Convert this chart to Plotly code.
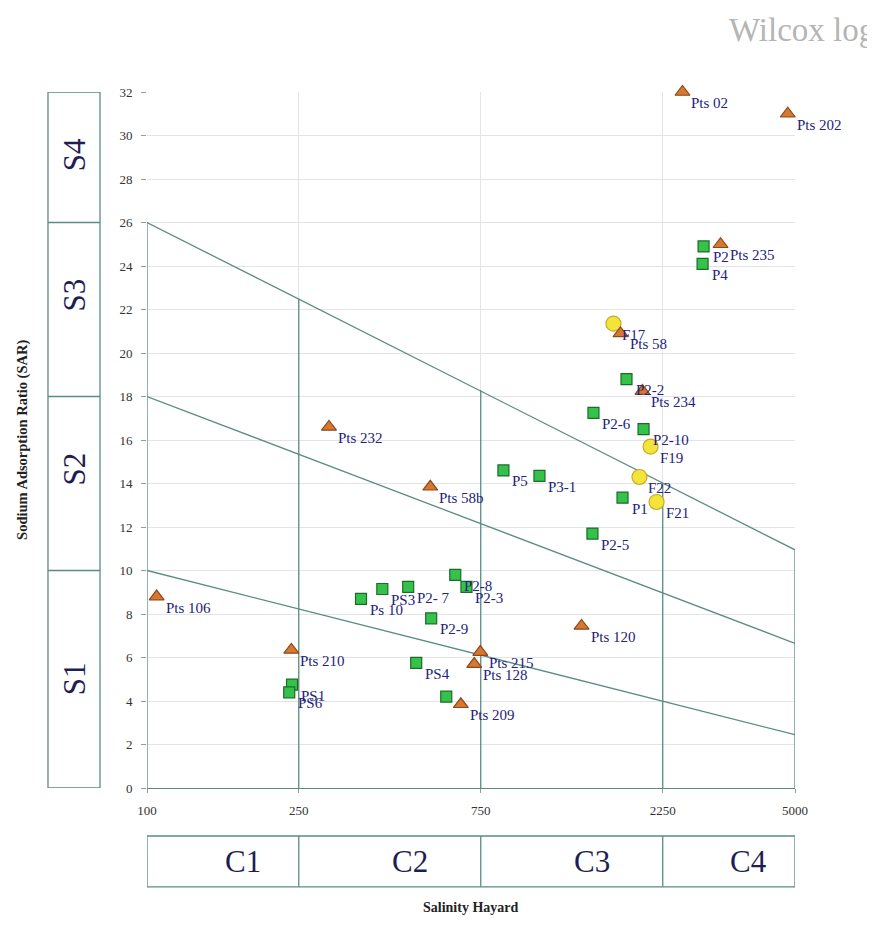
import math
import plotly.graph_objects as go

# ---------------- data ----------------
tri_names = ["Pts 02", "Pts 202", "Pts 235", "Pts 58", "Pts 234", "Pts 232", "Pts 58b",
             "Pts 106", "Pts 210", "Pts 215", "Pts 128", "Pts 209", "Pts 120"]
tri_ec = [2535, 4786, 3190, 1744, 1991, 300, 553, 106, 239, 748, 721, 665, 1378]
tri_sar = [32.0, 31.0, 25.0, 20.9, 18.25, 16.6, 13.85, 8.8, 6.35, 6.25, 5.7, 3.85, 7.45]

sq_names = ["P2", "P4", "P2-2", "P2-6", "P2-10", "P5", "P3-1", "P1", "P2-5", "P2-8", "P2-3",
            "PS3", "P2- 7", "Ps 10", "P2-9", "PS4", "", "PS1", "PS6"]
sq_ec = [2879, 2862, 1808, 1481, 2004, 860, 1069, 1765, 1472, 643, 688,
         414, 484, 364, 556, 508, 609, 240, 236]
sq_sar = [24.9, 24.1, 18.8, 17.25, 16.5, 14.6, 14.35, 13.35, 11.7, 9.8, 9.25,
          9.15, 9.25, 8.7, 7.8, 5.75, 4.2, 4.75, 4.4]

circ_names = ["F17", "F19", "F22", "F21"]
circ_ec = [1671, 2091, 1955, 2168]
circ_sar = [21.35, 15.7, 14.3, 13.15]

# class limits
ec_limits = [100, 250, 750, 2250, 5000]
c_classes = ["C1", "C2", "C3", "C4"]
s_limits = [0, 10, 18, 26, 32]
s_classes = ["S1", "S2", "S3", "S4"]

# boundary lines (SAR at EC=100 and EC=5000)
line_ec = [100, 5000]
b_s1s2 = [10.0, 2.45]
b_s2s3 = [18.0, 6.65]
b_s3s4 = [26.0, 10.95]
# top of the vertical class separators (on the S3/S4 boundary)
vert_top = [26.0, 22.5, 18.3, 14.0, 10.95]

y_ticks = list(range(0, 33, 2))

# ---------------- style ----------------
TEAL = "#5a8c84"
NAVY = "#23237a"
SERIF = "Liberation Serif, Times New Roman, serif"
LABEL_FONT = dict(family=SERIF, size=15, color=NAVY)
BIG_FONT = dict(family=SERIF, size=31, color="#1e1e55")

fig = go.Figure()

# boundary lines
for b in (b_s1s2, b_s2s3, b_s3s4):
    fig.add_trace(go.Scatter(x=line_ec, y=b, mode="lines",
                             line=dict(color=TEAL, width=1.3), hoverinfo="skip"))

# vertical separators
vx, vy = [], []
for e, t in zip(ec_limits, vert_top):
    vx += [e, e, None]
    vy += [0, t, None]
fig.add_trace(go.Scatter(x=vx, y=vy, mode="lines", line=dict(color=TEAL, width=1.3),
                         hoverinfo="skip"))

# points
fig.add_trace(go.Scatter(x=circ_ec, y=circ_sar, mode="markers",
                         marker=dict(symbol="circle", size=15, color="#f3e43a",
                                     line=dict(color="#c9a82a", width=1.2)),
                         cliponaxis=False))
fig.add_trace(go.Scatter(x=sq_ec, y=sq_sar, mode="markers",
                         marker=dict(symbol="square", size=11, color="#35c24a",
                                     line=dict(color="#1d6b2a", width=1.2)),
                         cliponaxis=False))
fig.add_trace(go.Scatter(x=tri_ec, y=tri_sar, mode="markers",
                         marker=dict(symbol="triangle-up", size=13, color="#d8782e",
                                     line=dict(color="#8a4a1e", width=1.2)),
                         cliponaxis=False))

annotations = []
# point labels (to the lower right of each marker)
for names, xs, ys in ((circ_names, circ_ec, circ_sar), (sq_names, sq_ec, sq_sar),
                      (tri_names, tri_ec, tri_sar)):
    for n, xv, yv in zip(names, xs, ys):
        if not n:
            continue
        annotations.append(dict(x=math.log10(xv), y=yv, xref="x", yref="y", text=n,
                                showarrow=False, xanchor="left", yanchor="middle",
                                xshift=7, yshift=-11, font=LABEL_FONT))

shapes = []
# C boxes (below plot)
cy0, cy1 = -0.142, -0.069
shapes.append(dict(type="rect", xref="x", yref="paper", x0=ec_limits[0], x1=ec_limits[-1],
                   y0=cy0, y1=cy1, line=dict(color=TEAL, width=1.3)))
for e in ec_limits[1:-1]:
    shapes.append(dict(type="line", xref="x", yref="paper", x0=e, x1=e, y0=cy0, y1=cy1,
                       line=dict(color=TEAL, width=1.3)))
# S boxes (left of plot)
sx0, sx1 = -0.1528, -0.0725
shapes.append(dict(type="rect", xref="paper", yref="y", x0=sx0, x1=sx1,
                   y0=s_limits[0], y1=s_limits[-1], line=dict(color=TEAL, width=1.3)))
for s in s_limits[1:-1]:
    shapes.append(dict(type="line", xref="paper", yref="y", x0=sx0, x1=sx1, y0=s, y1=s,
                       line=dict(color=TEAL, width=1.3)))

for i, c in enumerate(c_classes):
    xc = (math.log10(ec_limits[i]) + math.log10(ec_limits[i + 1])) / 2
    annotations.append(dict(x=xc, y=(cy0 + cy1) / 2, xref="x", yref="paper", text=c,
                            showarrow=False, xshift=20, xanchor="center",
                            yanchor="middle", font=BIG_FONT))
s_yshift = [0, 14, 14, 2]
for i, s in enumerate(s_classes):
    yc = (s_limits[i] + s_limits[i + 1]) / 2
    annotations.append(dict(x=(sx0 + sx1) / 2, y=yc, xref="paper", yref="y", text=s,
                            showarrow=False, textangle=-90, xanchor="center",
                            yanchor="middle", yshift=s_yshift[i], font=BIG_FONT))
annotations.append(dict(x=-0.193, y=0.5, xref="paper", yref="paper",
                        text="<b>Sodium Adsorption Ratio (SAR)</b>", showarrow=False,
                        textangle=-90, xanchor="center", yanchor="middle",
                        font=dict(family=SERIF, size=14.5, color="#222")))
annotations.append(dict(x=0.5, y=-0.172, xref="paper", yref="paper",
                        text="<b>Salinity Hayard</b>", showarrow=False,
                        xanchor="center", yanchor="middle",
                        font=dict(family=SERIF, size=14, color="#222")))
annotations.append(dict(x=0.895, y=1.089, xref="paper", yref="paper", text="Wilcox log",
                        showarrow=False, xanchor="left", yanchor="middle",
                        font=dict(family=SERIF, size=33, color="#b5b5b5")))

fig.update_layout(
    width=867, height=937,
    margin=dict(l=139, r=80, t=84, b=157),
    paper_bgcolor="white", plot_bgcolor="white",
    showlegend=False,
    shapes=shapes, annotations=annotations,
    xaxis=dict(type="log", range=[math.log10(100), math.log10(5000)],
               tickvals=ec_limits, ticktext=[str(v) for v in ec_limits],
               showgrid=True, gridcolor="#e4e4e4", gridwidth=1,
               showline=True, linecolor=TEAL, linewidth=1.3,
               ticks="outside", ticklen=4, tickcolor="#999", ticklabelstandoff=6,
               tickfont=dict(family=SERIF, size=13, color="#333"), zeroline=False),
    yaxis=dict(range=[0, 32], tickvals=y_ticks,
               showgrid=True, gridcolor="#e4e4e4", gridwidth=1,
               showline=False, zeroline=False,
               ticks="outside", ticklen=5, tickcolor="#999", ticklabelstandoff=6,
               tickfont=dict(family=SERIF, size=13, color="#333")),
)

fig.write_html("out.html")
